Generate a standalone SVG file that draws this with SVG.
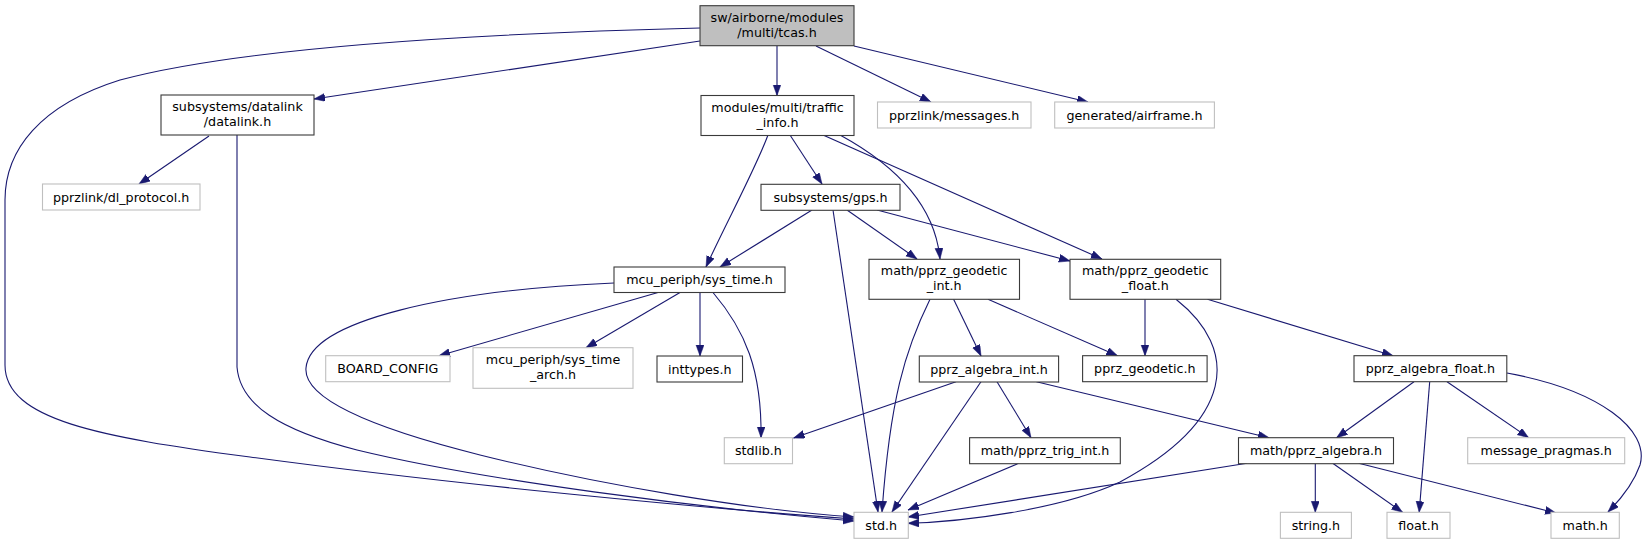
<svg xmlns="http://www.w3.org/2000/svg" width="1648" height="544" viewBox="0 0 1648 544">
<defs>
<marker id="ah" markerUnits="userSpaceOnUse" markerWidth="12" markerHeight="9" refX="11" refY="4" orient="auto">
<path d="M0,0 L11,4 L0,8 z" fill="#191970" stroke="#191970" stroke-width="0.5"/>
</marker>
<style>
.e{fill:none;stroke:#191970;stroke-width:1.1;marker-end:url(#ah)}
.d rect{fill:#ffffff;stroke:#3a3a3a;stroke-width:1.1}
.u rect{fill:#ffffff;stroke:#bfbfbf;stroke-width:1.1}
.r rect{fill:#bfbfbf;stroke:#3a3a3a;stroke-width:1.1}
text{font-family:"DejaVu Sans","Liberation Sans",sans-serif;font-size:12.7px;fill:#000;text-anchor:middle}
</style>
</defs>
<rect width="1648" height="544" fill="#ffffff"/>
<g id="edges">
<path class="e" d="M700,28 C500,33 250,45 120,80 C40,105 5,150 5,200 L5,365 C5,420 100,437 250,457 C450,484 700,508 854,519"/>
<path class="e" d="M700,41 L314,99"/>
<path class="e" d="M777,46 L777,95.5"/>
<path class="e" d="M816,46 L931,102"/>
<path class="e" d="M854,46 L1088,102"/>
<path class="e" d="M209,136 L139,184"/>
<path class="e" d="M237,135 L237,367 C240,405 280,430 357,450 C480,480 700,508 854,521"/>
<path class="e" d="M768,135 C755,170 725,225 706,267"/>
<path class="e" d="M790,135 L822,184"/>
<path class="e" d="M840,135 C895,165 935,205 940,259"/>
<path class="e" d="M823,135 L1102,259"/>
<path class="e" d="M812,210 L720,267"/>
<path class="e" d="M833,210 L878,512"/>
<path class="e" d="M847,210 L917,259"/>
<path class="e" d="M877,210 L1070,261"/>
<path class="e" d="M614,283 C450,290 310,320 306,368 C303,400 380,430 480,455 C600,485 750,510 854,517"/>
<path class="e" d="M658,292.5 L439,355.7"/>
<path class="e" d="M680,292.5 L586,347.7"/>
<path class="e" d="M700,292.5 L700,356"/>
<path class="e" d="M713,292.5 C745,330 762,370 761,437.7"/>
<path class="e" d="M930,299.3 C905,350 890,400 882,512"/>
<path class="e" d="M953.6,299.3 L981,356"/>
<path class="e" d="M988,299.3 L1117.5,355.7"/>
<path class="e" d="M1145,299.3 L1145,355.7"/>
<path class="e" d="M1176,299.3 C1240,350 1235,420 1120,482 C1060,510 960,522 908,523.3"/>
<path class="e" d="M1207.5,299.3 L1393,355.7"/>
<path class="e" d="M956,381.7 L793.6,438"/>
<path class="e" d="M981,381.7 L892,512"/>
<path class="e" d="M997,381.7 L1031,437.7"/>
<path class="e" d="M1036.4,381.7 L1269,437.7"/>
<path class="e" d="M1018.6,463.3 L908,510"/>
<path class="e" d="M1247,463.3 L908,517"/>
<path class="e" d="M1315.3,463.3 L1315.3,512.3"/>
<path class="e" d="M1332.7,463.3 L1402.5,512.3"/>
<path class="e" d="M1358.7,463.3 L1556,513"/>
<path class="e" d="M1414,381.7 L1336.6,437.7"/>
<path class="e" d="M1429.7,381.7 L1419.2,512.3"/>
<path class="e" d="M1447,381.7 L1528.6,437.7"/>
<path class="e" d="M1507,373 C1600,390 1650,430 1640,465 C1633,485 1620,500 1608,512"/>
</g>
<g id="tcas" class="r"><rect x="700" y="5.7" width="154" height="40"/><text x="777" y="21.7">sw/airborne/modules</text><text x="777" y="36.7">/multi/tcas.h</text></g>
<g id="datalink" class="d"><rect x="161" y="95" width="153" height="40"/><text x="237.5" y="111">subsystems/datalink</text><text x="237.5" y="126">/datalink.h</text></g>
<g id="traffic_info" class="d"><rect x="701" y="95.5" width="153" height="40"/><text x="777.5" y="111.5">modules/multi/traffic</text><text x="777.5" y="126.5">_info.h</text></g>
<g id="messages" class="u"><rect x="877.5" y="102" width="153.5" height="26"/><text x="954.2" y="119.5">pprzlink/messages.h</text></g>
<g id="airframe" class="u"><rect x="1054.7" y="102" width="159.7" height="26"/><text x="1134.5" y="119.5">generated/airframe.h</text></g>
<g id="dl_protocol" class="u"><rect x="42.5" y="184" width="157.5" height="26"/><text x="121.2" y="201.5">pprzlink/dl_protocol.h</text></g>
<g id="gps" class="d"><rect x="761" y="184.3" width="139" height="26"/><text x="830.5" y="201.8">subsystems/gps.h</text></g>
<g id="sys_time" class="d"><rect x="614" y="267" width="171" height="25.5"/><text x="699.5" y="284.3">mcu_periph/sys_time.h</text></g>
<g id="geodetic_int" class="d"><rect x="869" y="259.3" width="150.5" height="40"/><text x="944.2" y="275.3">math/pprz_geodetic</text><text x="944.2" y="290.3">_int.h</text></g>
<g id="geodetic_float" class="d"><rect x="1070" y="259.3" width="150.7" height="40"/><text x="1145.3" y="275.3">math/pprz_geodetic</text><text x="1145.3" y="290.3">_float.h</text></g>
<g id="board_config" class="u"><rect x="325.7" y="355.7" width="124.3" height="26"/><text x="387.8" y="373.2">BOARD_CONFIG</text></g>
<g id="sys_time_arch" class="u"><rect x="473" y="347.7" width="160" height="40.6"/><text x="553" y="364">mcu_periph/sys_time</text><text x="553" y="379">_arch.h</text></g>
<g id="inttypes" class="d"><rect x="657" y="356" width="85.5" height="26"/><text x="699.7" y="373.5">inttypes.h</text></g>
<g id="pprz_algebra_int" class="d"><rect x="919.3" y="356" width="139.3" height="26"/><text x="989" y="373.5">pprz_algebra_int.h</text></g>
<g id="pprz_geodetic" class="d"><rect x="1082.6" y="355.7" width="124.5" height="26"/><text x="1144.8" y="373.2">pprz_geodetic.h</text></g>
<g id="pprz_algebra_float" class="d"><rect x="1354" y="355.7" width="152.8" height="26"/><text x="1430.4" y="373.2">pprz_algebra_float.h</text></g>
<g id="stdlib" class="u"><rect x="724.3" y="437.7" width="68.2" height="26"/><text x="758.4" y="455.2">stdlib.h</text></g>
<g id="trig_int" class="d"><rect x="969.6" y="437.7" width="150.7" height="26"/><text x="1045" y="455.2">math/pprz_trig_int.h</text></g>
<g id="pprz_algebra" class="d"><rect x="1238.5" y="437.7" width="155" height="26"/><text x="1316" y="455.2">math/pprz_algebra.h</text></g>
<g id="message_pragmas" class="u"><rect x="1467.7" y="437.7" width="157" height="26"/><text x="1546.2" y="455.2">message_pragmas.h</text></g>
<g id="std" class="u"><rect x="854" y="512.3" width="54.3" height="26"/><text x="881.2" y="529.8">std.h</text></g>
<g id="string" class="u"><rect x="1280.4" y="512.3" width="71" height="26"/><text x="1315.9" y="529.8">string.h</text></g>
<g id="float" class="u"><rect x="1387" y="512.3" width="63" height="26"/><text x="1418.5" y="529.8">float.h</text></g>
<g id="math" class="u"><rect x="1551" y="512.3" width="68.3" height="26"/><text x="1585.2" y="529.8">math.h</text></g>
</svg>
